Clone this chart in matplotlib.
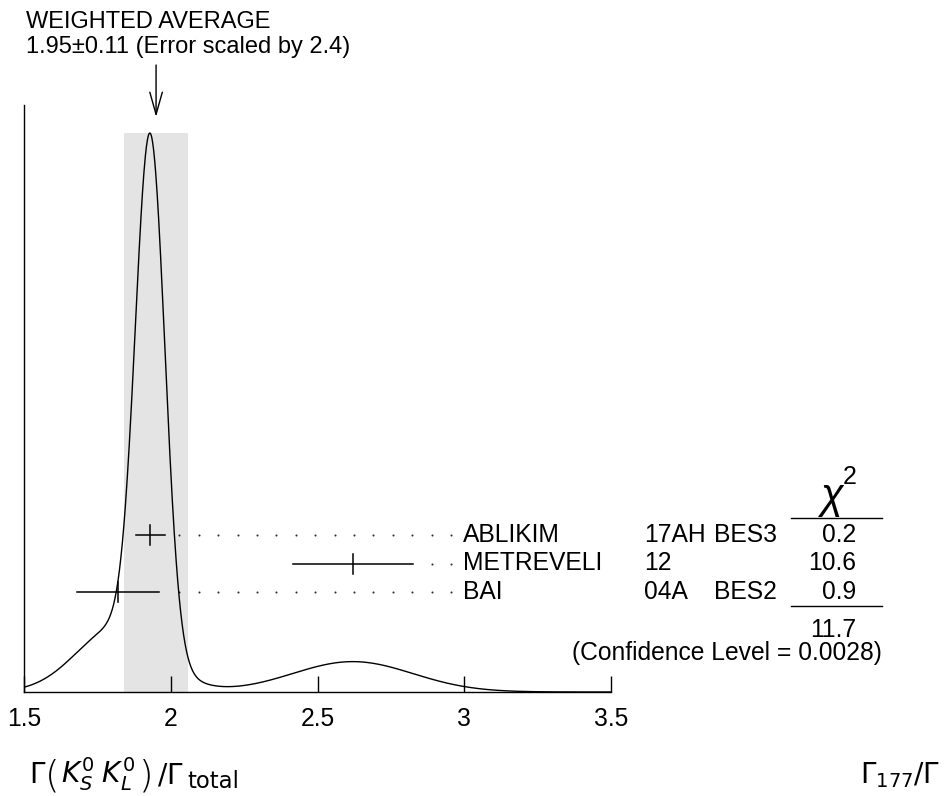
import numpy as np
import matplotlib
matplotlib.use("Agg")
import matplotlib.pyplot as plt

plt.rcParams["font.family"] = ["Liberation Sans", "DejaVu Sans"]
plt.rcParams["mathtext.fontset"] = "dejavusans"

# measurements (value, error) and fit summary
authors = ["ABLIKIM", "METREVELI", "BAI"]
refs = ["17AH", "12", "04A"]
experiments = ["BES3", "", "BES2"]
values = [1.93, 2.62, 1.82]
errors = [0.05, 0.205, 0.14]
chi2 = ["0.2", "10.6", "0.9"]
chi2_total = "11.7"
conf_level = "0.0028"
avg, avg_err, scale = 1.95, 0.11, 2.4

xticks = [1.5, 2, 2.5, 3, 3.5]
xticklabels = ["1.5", "2", "2.5", "3", "3.5"]

W, H = 951, 796
FS = 17.7
fig = plt.figure(figsize=(W / 100, H / 100), dpi=100)


def fx(px):
    return px / W


def fy(py):
    return 1 - py / H


base_px, top_px, left_px, right_px = 692, 105, 24, 611
ax = fig.add_axes([fx(left_px), fy(base_px), fx(right_px - left_px), (base_px - top_px) / H])
ax.set_xlim(1.5, 3.5)
ax.set_ylim(0, base_px - top_px)

# ideogram: each measurement a gaussian with area ~ 1/sigma
x = np.linspace(1.5, 3.5, 1200)
curve = np.zeros_like(x)
for v, e in zip(values, errors):
    curve += np.exp(-0.5 * ((x - v) / e) ** 2) / e ** 2
peak_h = base_px - 133
curve = curve / curve.max() * peak_h

ax.fill_between([avg - avg_err, avg + avg_err], 0, peak_h, color="#e4e4e4", lw=0, zorder=0)
ax.plot(x, curve, color="black", lw=1.0, zorder=3)

# rows of measurements with dotted leaders
row_y0, row_step = base_px - 535, 28.5
dot_last, dot_step = 2.955, 0.0661
dot_grid = dot_last - dot_step * np.arange(30)
for i, (v, e) in enumerate(zip(values, errors)):
    y = row_y0 - i * row_step
    ax.plot([v - e, v + e], [y, y], color="black", lw=1.1, zorder=4)
    ax.plot([v, v], [y - 10, y + 10], color="black", lw=1.1, zorder=4)
    dots = dot_grid[dot_grid > v + e + 0.03]
    ax.plot(dots, np.full_like(dots, y), ls="none", marker="o", ms=1.5, mew=0,
            color="#333333", zorder=2)

    ypx = base_px - y
    fig.text(fx(463), fy(ypx), authors[i], fontsize=FS, va="center")
    fig.text(fx(644), fy(ypx), refs[i], fontsize=FS, va="center")
    fig.text(fx(714), fy(ypx), experiments[i], fontsize=FS, va="center")
    fig.text(fx(856), fy(ypx), chi2[i], fontsize=FS, va="center", ha="right")

# chi2 column header and totals
fig.text(fx(831), fy(508), "χ", fontsize=30, style="italic", ha="center", va="baseline")
fig.text(fx(850), fy(477), "2", fontsize=18, ha="center", va="center")
fig.add_artist(plt.Line2D([fx(791), fx(882)], [fy(518), fy(518)], color="black", lw=1.0))
fig.add_artist(plt.Line2D([fx(791), fx(882)], [fy(606), fy(606)], color="black", lw=1.0))
fig.text(fx(856), fy(630), chi2_total, fontsize=FS, va="center", ha="right")
fig.text(fx(882), fy(653), "(Confidence Level = %s)" % conf_level, fontsize=FS,
         va="center", ha="right")

# weighted average annotation
fig.text(fx(26), fy(28.5), "WEIGHTED AVERAGE", fontsize=17, va="baseline")
fig.text(fx(26), fy(53.5), "%.2f\u00b1%.2f (Error scaled by %.1f)" % (avg, avg_err, scale),
         fontsize=17, va="baseline")
ax.annotate("", xy=(avg, base_px - 117), xytext=(avg, base_px - 65),
            arrowprops=dict(arrowstyle="->,head_length=1.6,head_width=0.45",
                            color="black", lw=1.0, shrinkA=0, shrinkB=0),
            annotation_clip=False)

# axes styling
for side in ["top", "right"]:
    ax.spines[side].set_visible(False)
for side in ["left", "bottom"]:
    ax.spines[side].set_linewidth(1.0)
ax.set_yticks([])
ax.set_xticks(xticks)
ax.set_xticklabels(xticklabels, fontsize=FS)
ax.tick_params(axis="x", direction="in", length=11.5, width=1.0, pad=11)

# quantity labels, built in pieces to get tall brackets
fig.text(fx(29), fy(783), r"$\Gamma$", fontsize=20, va="baseline")
fig.text(fx(45), fy(787), "(", fontsize=27, va="baseline", family="DejaVu Sans", weight="light")
fig.text(fx(61), fy(783), r"$K^0_S\;K^0_L$", fontsize=20, va="baseline")
fig.text(fx(139), fy(787), ")", fontsize=27, va="baseline", family="DejaVu Sans", weight="light")
fig.text(fx(157), fy(783), r"$/\Gamma$", fontsize=20, va="baseline")
fig.text(fx(187), fy(788), "total", fontsize=16.4, va="baseline", family="DejaVu Sans")
fig.text(fx(940), fy(783), r"$\Gamma_{177}/\Gamma$", fontsize=20, va="baseline", ha="right")

fig.savefig("out.png", dpi=100)
